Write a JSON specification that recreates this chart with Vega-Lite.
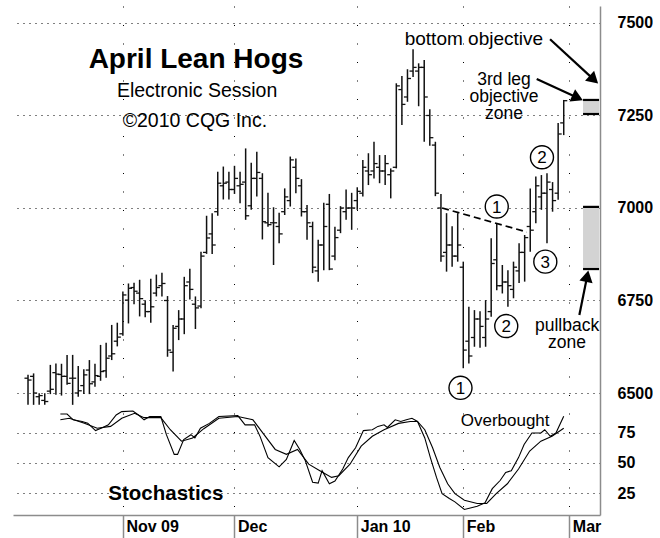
{
  "$schema": "https://vega.github.io/schema/vega-lite/v6.json",
  "width": 587,
  "height": 509,
  "padding": {"left": 13, "top": 6, "right": 0, "bottom": 0},
  "background": "white",
  "config": {
    "view": {"stroke": null},
    "axis": {"labelFont": "Liberation Sans", "labelFontSize": 16, "labelFontWeight": "bold", "labelColor": "#000"},
    "text": {"font": "Liberation Sans"}
  },
  "datasets": {
    "bars": [
      {"i":0,"h":6549,"l":6468,"o":6540,"c":6535},
      {"i":1,"h":6553,"l":6468,"o":6545,"c":6500},
      {"i":2,"h":6499,"l":6468,"o":6490,"c":6493},
      {"i":3,"h":6499,"l":6468,"o":6480,"c":6477},
      {"i":4,"h":6576,"l":6497,"o":6505,"c":6510},
      {"i":5,"h":6580,"l":6495,"o":6555,"c":6551},
      {"i":6,"h":6579,"l":6493,"o":6550,"c":6545},
      {"i":7,"h":6603,"l":6522,"o":6545,"c":6526},
      {"i":8,"h":6603,"l":6468,"o":6540,"c":6540},
      {"i":9,"h":6573,"l":6490,"o":6500,"c":6506},
      {"i":10,"h":6564,"l":6497,"o":6520,"c":6549},
      {"i":11,"h":6589,"l":6497,"o":6562,"c":6525},
      {"i":12,"h":6579,"l":6517,"o":6530,"c":6547},
      {"i":13,"h":6630,"l":6533,"o":6545,"c":6558},
      {"i":14,"h":6636,"l":6541,"o":6560,"c":6594},
      {"i":15,"h":6684,"l":6589,"o":6600,"c":6606},
      {"i":16,"h":6690,"l":6626,"o":6640,"c":6651},
      {"i":17,"h":6774,"l":6655,"o":6660,"c":6765},
      {"i":18,"h":6796,"l":6688,"o":6751,"c":6783},
      {"i":19,"h":6798,"l":6740,"o":6785,"c":6775},
      {"i":20,"h":6806,"l":6707,"o":6770,"c":6755},
      {"i":21,"h":6751,"l":6705,"o":6740,"c":6720},
      {"i":22,"h":6809,"l":6690,"o":6720,"c":6733},
      {"i":23,"h":6820,"l":6761,"o":6770,"c":6785},
      {"i":24,"h":6825,"l":6761,"o":6790,"c":6796},
      {"i":25,"h":6762,"l":6598,"o":6750,"c":6616},
      {"i":26,"h":6684,"l":6558,"o":6610,"c":6675},
      {"i":27,"h":6724,"l":6643,"o":6680,"c":6700},
      {"i":28,"h":6814,"l":6659,"o":6700,"c":6790},
      {"i":29,"h":6836,"l":6753,"o":6800,"c":6780},
      {"i":30,"h":6761,"l":6673,"o":6740,"c":6730},
      {"i":31,"h":6882,"l":6729,"o":6735,"c":6870},
      {"i":32,"h":6979,"l":6876,"o":6880,"c":6919},
      {"i":33,"h":6986,"l":6876,"o":6930,"c":6900},
      {"i":34,"h":7098,"l":6979,"o":6990,"c":7067},
      {"i":35,"h":7112,"l":7023,"o":7060,"c":7067},
      {"i":36,"h":7098,"l":7023,"o":7070,"c":7050},
      {"i":37,"h":7114,"l":7038,"o":7050,"c":7080},
      {"i":38,"h":7098,"l":7013,"o":7060,"c":7064},
      {"i":39,"h":7161,"l":6968,"o":7070,"c":6979},
      {"i":40,"h":7122,"l":6995,"o":7006,"c":7080},
      {"i":41,"h":7152,"l":7031,"o":7080,"c":7096},
      {"i":42,"h":7094,"l":6915,"o":7080,"c":6963},
      {"i":43,"h":7041,"l":6949,"o":6960,"c":6955},
      {"i":44,"h":7002,"l":6846,"o":6960,"c":6960},
      {"i":45,"h":6987,"l":6905,"o":6950,"c":6930},
      {"i":46,"h":7053,"l":6981,"o":6990,"c":7030},
      {"i":47,"h":7139,"l":7004,"o":7020,"c":7130},
      {"i":48,"h":7134,"l":7040,"o":7110,"c":7080},
      {"i":49,"h":7078,"l":6977,"o":7060,"c":6990},
      {"i":50,"h":7008,"l":6914,"o":6990,"c":6960},
      {"i":51,"h":6963,"l":6824,"o":6950,"c":6840},
      {"i":52,"h":6914,"l":6801,"o":6830,"c":6900},
      {"i":53,"h":7014,"l":6832,"o":6900,"c":6950},
      {"i":54,"h":7038,"l":6832,"o":7010,"c":6835},
      {"i":55,"h":6949,"l":6859,"o":6870,"c":6920},
      {"i":56,"h":7005,"l":6932,"o":6940,"c":7000},
      {"i":57,"h":7050,"l":6968,"o":6990,"c":7000},
      {"i":58,"h":7041,"l":6941,"o":7000,"c":7000},
      {"i":59,"h":7056,"l":6995,"o":7020,"c":7045},
      {"i":60,"h":7130,"l":7031,"o":7040,"c":7110},
      {"i":61,"h":7148,"l":7062,"o":7100,"c":7090},
      {"i":62,"h":7179,"l":7080,"o":7100,"c":7120},
      {"i":63,"h":7143,"l":7067,"o":7110,"c":7100},
      {"i":64,"h":7143,"l":7062,"o":7100,"c":7120},
      {"i":65,"h":7107,"l":7026,"o":7090,"c":7100},
      {"i":66,"h":7337,"l":7107,"o":7110,"c":7330},
      {"i":67,"h":7357,"l":7224,"o":7320,"c":7280},
      {"i":68,"h":7375,"l":7287,"o":7300,"c":7350},
      {"i":69,"h":7429,"l":7354,"o":7370,"c":7380},
      {"i":70,"h":7391,"l":7275,"o":7370,"c":7380},
      {"i":71,"h":7400,"l":7179,"o":7380,"c":7300},
      {"i":72,"h":7267,"l":7168,"o":7250,"c":7190},
      {"i":73,"h":7179,"l":7032,"o":7170,"c":7040},
      {"i":74,"h":7038,"l":6855,"o":7000,"c":6870},
      {"i":75,"h":6986,"l":6828,"o":6880,"c":6900},
      {"i":76,"h":6951,"l":6841,"o":6900,"c":6870},
      {"i":77,"h":6986,"l":6855,"o":6870,"c":6900},
      {"i":78,"h":6855,"l":6567,"o":6840,"c":6616},
      {"i":79,"h":6733,"l":6580,"o":6640,"c":6600},
      {"i":80,"h":6724,"l":6625,"o":6650,"c":6700},
      {"i":81,"h":6721,"l":6622,"o":6700,"c":6680},
      {"i":82,"h":6751,"l":6625,"o":6650,"c":6700},
      {"i":83,"h":6918,"l":6706,"o":6720,"c":6850},
      {"i":84,"h":6959,"l":6778,"o":6860,"c":6790},
      {"i":85,"h":6846,"l":6769,"o":6790,"c":6800},
      {"i":86,"h":6832,"l":6733,"o":6800,"c":6790},
      {"i":87,"h":6855,"l":6756,"o":6780,"c":6840},
      {"i":88,"h":6905,"l":6797,"o":6830,"c":6880},
      {"i":89,"h":6927,"l":6801,"o":6880,"c":6920},
      {"i":90,"h":7053,"l":6882,"o":6950,"c":6940},
      {"i":91,"h":7085,"l":6959,"o":6990,"c":7060},
      {"i":92,"h":7089,"l":6995,"o":7030,"c":7040},
      {"i":93,"h":7094,"l":6905,"o":7040,"c":7070},
      {"i":94,"h":7070,"l":6990,"o":7050,"c":7020},
      {"i":95,"h":7230,"l":7022,"o":7040,"c":7200},
      {"i":96,"h":7292,"l":7197,"o":7230,"c":7290}
    ],
    "stK": [
      {"i":5.8,"v":90.8},{"i":7.0,"v":90.8},{"i":8.1,"v":86},{"i":9.7,"v":84.6},{"i":10.7,"v":83.2},
      {"i":12.1,"v":77},{"i":13.4,"v":79.6},{"i":14.4,"v":81.8},{"i":15.8,"v":90},{"i":16.8,"v":92.8},
      {"i":18.8,"v":93.3},{"i":19.8,"v":90},{"i":20.8,"v":86},{"i":21.8,"v":88.7},{"i":23.8,"v":88.7},
      {"i":24.8,"v":73.6},{"i":26.2,"v":57.2},{"i":26.8,"v":57.2},{"i":27.9,"v":69.5},{"i":29.2,"v":73.6},
      {"i":29.9,"v":70.9},{"i":30.9,"v":79},{"i":32.5,"v":83},{"i":34.2,"v":88.7},{"i":37.6,"v":89.5},
      {"i":38.9,"v":81.8},{"i":40.6,"v":81.8},{"i":41.6,"v":72},{"i":43.0,"v":54.5},{"i":45.0,"v":46.8},
      {"i":46.3,"v":53},{"i":47.7,"v":68.7},{"i":48.7,"v":61.3},{"i":49.7,"v":51.8},{"i":51.0,"v":34},
      {"i":52.0,"v":33.2},{"i":52.7,"v":43.6},{"i":54.0,"v":32.7},{"i":55.0,"v":35},{"i":56.4,"v":45},
      {"i":57.4,"v":54.5},{"i":58.7,"v":62.7},{"i":60.1,"v":77},{"i":61.7,"v":77.7},{"i":62.7,"v":80.5},
      {"i":63.8,"v":81.8},{"i":64.4,"v":79.6},{"i":65.8,"v":86},{"i":66.8,"v":84.6},{"i":67.8,"v":86},
      {"i":68.8,"v":87.3},{"i":69.8,"v":84.6},{"i":71.1,"v":70.9},{"i":72.1,"v":54.5},{"i":73.2,"v":38},
      {"i":74.2,"v":24.5},{"i":75.5,"v":20.4},{"i":76.5,"v":17.6},{"i":78.2,"v":11.3},{"i":80.5,"v":14},
      {"i":81.9,"v":16.8},{"i":83.2,"v":28.6},{"i":84.6,"v":35.4},{"i":85.6,"v":42.2},{"i":86.6,"v":43.6},
      {"i":87.9,"v":54.5},{"i":88.9,"v":65.4},{"i":90.3,"v":75},{"i":91.9,"v":75},{"i":92.6,"v":77.7},
      {"i":93.6,"v":72.3},{"i":94.6,"v":75},{"i":96.0,"v":89}
    ],
    "stD": [
      {"i":5.8,"v":86},{"i":7.4,"v":87.3},{"i":10.1,"v":83.2},{"i":12.4,"v":79},{"i":14.8,"v":80.5},
      {"i":16.8,"v":87.3},{"i":19.1,"v":91.4},{"i":20.8,"v":87.8},{"i":23.8,"v":87.8},{"i":25.5,"v":77.7},
      {"i":27.5,"v":68.2},{"i":29.5,"v":70.9},{"i":31.5,"v":78.6},{"i":34.2,"v":87.3},{"i":37.6,"v":88.7},
      {"i":40.3,"v":86},{"i":42.3,"v":73.6},{"i":44.3,"v":61.3},{"i":46.3,"v":57.2},{"i":48.3,"v":61.3},
      {"i":50.3,"v":49},{"i":52.3,"v":43.6},{"i":54.4,"v":38},{"i":55.7,"v":39.4},{"i":57.7,"v":49},
      {"i":59.7,"v":64},{"i":61.7,"v":72.3},{"i":63.8,"v":77.7},{"i":66.4,"v":83},{"i":68.5,"v":84.6},
      {"i":69.8,"v":84.6},{"i":71.1,"v":77.7},{"i":72.5,"v":62.7},{"i":73.8,"v":46.3},{"i":75.2,"v":32.7},
      {"i":76.5,"v":24.5},{"i":78.2,"v":19},{"i":80.5,"v":16.3},{"i":82.2,"v":16.3},{"i":83.9,"v":24.5},
      {"i":85.9,"v":32.7},{"i":87.9,"v":45},{"i":89.9,"v":60},{"i":91.9,"v":68.2},{"i":93.9,"v":72.3},
      {"i":96.0,"v":79}
    ]
  },
  "layer": [
    {
      "layer": [
        {
          "data": {"name": "bars"},
          "mark": {"type": "rule", "color": "#111", "strokeWidth": 1.5},
          "encoding": {
            "x": {"field": "i", "type": "quantitative", "scale": {"domain": [-2.69, 102.5], "nice": false, "zero": false},
              "axis": {"title": null, "values": [17, 37, 59, 78, 97],
                "labelExpr": "datum.value == 17 ? 'Nov 09' : datum.value == 37 ? 'Dec' : datum.value == 59 ? 'Jan 10' : datum.value == 78 ? 'Feb' : 'Mar'",
                "grid": true, "gridColor": "#000", "gridDash": [1, 17.5], "gridWidth": 1,
                "domainColor": "#8c8c8c", "domainWidth": 1.5, "tickColor": "#8c8c8c", "tickSize": 23, "tickWidth": 1.5,
                "labelAlign": "left", "labelBaseline": "alphabetic", "labelPadding": -7, "labelOffset": 3,
                "labelFlush": false, "labelOverlap": false}},
            "y": {"field": "l", "type": "quantitative", "scale": {"domain": [6170.3, 7545.9], "nice": false, "zero": false},
              "axis": {"title": null, "orient": "right", "values": [6500, 6750, 7000, 7250, 7500], "format": "d",
                "grid": true, "gridColor": "#000", "gridDash": [1, 5], "gridWidth": 1,
                "domainColor": "#8c8c8c", "domainWidth": 1.5, "ticks": false, "tickSize": 0, "labelPadding": 17}},
            "y2": {"field": "h"}
          }
        },
        {
          "data": {"name": "bars"},
          "mark": {"type": "tick", "orient": "horizontal", "size": 3.5, "thickness": 1.3, "color": "#111", "xOffset": -1.8, "opacity": 1},
          "encoding": {"x": {"field": "i", "type": "quantitative"}, "y": {"field": "o", "type": "quantitative", "title": null}}
        },
        {
          "data": {"name": "bars"},
          "mark": {"type": "tick", "orient": "horizontal", "size": 3.5, "thickness": 1.3, "color": "#111", "xOffset": 1.8, "opacity": 1},
          "encoding": {"x": {"field": "i", "type": "quantitative"}, "y": {"field": "c", "type": "quantitative", "title": null}}
        },
        {
          "mark": {"type": "rule", "color": "#8c8c8c", "strokeWidth": 1.5},
          "encoding": {"x": {"datum": -2.69}, "x2": {"datum": 102.5}, "y": {"datum": 6467.6}}
        },
        {
          "mark": {"type": "rule", "color": "#000", "strokeWidth": 2},
          "encoding": {"x": {"datum": -2.69}, "y": {"datum": 7545.9}, "y2": {"datum": 6108}}
        },
        {
          "mark": {"type": "rule", "color": "#000", "strokeWidth": 2},
          "encoding": {"x": {"datum": -2.69}, "x2": {"datum": 112.19}, "y": {"datum": 7545.9}}
        },
        {
          "mark": {"type": "rule", "color": "#000", "strokeWidth": 2},
          "encoding": {"x": {"datum": 112.19}, "y": {"datum": 7545.9}, "y2": {"datum": 6108}}
        },
        {
          "data": {"values": [{"a": 99.46, "b": 102.33, "lo": 7254, "hi": 7292}, {"a": 99.46, "b": 102.33, "lo": 6835, "hi": 7003}]},
          "layer": [
            {"mark": {"type": "rect", "color": "#d3d3d3"},
             "encoding": {"x": {"field": "a", "type": "quantitative"}, "x2": {"field": "b"}, "y": {"field": "lo", "type": "quantitative", "title": null}, "y2": {"field": "hi"}}},
            {"mark": {"type": "rule", "color": "#000", "strokeWidth": 2.2},
             "encoding": {"x": {"field": "a", "type": "quantitative"}, "x2": {"field": "b"}, "y": {"field": "lo", "type": "quantitative", "title": null}}},
            {"mark": {"type": "rule", "color": "#000", "strokeWidth": 2.2},
             "encoding": {"x": {"field": "a", "type": "quantitative"}, "x2": {"field": "b"}, "y": {"field": "hi", "type": "quantitative", "title": null}}}
          ]
        },
        {
          "data": {"values": [{"a": 74.2, "p": 7000, "b": 89.4, "q": 6935}]},
          "mark": {"type": "rule", "color": "#000", "strokeWidth": 1.8, "strokeDash": [7, 4]},
          "encoding": {"x": {"field": "a", "type": "quantitative"}, "x2": {"field": "b"}, "y": {"field": "p", "type": "quantitative", "title": null}, "y2": {"field": "q"}}
        },
        {
          "data": {"values": [
            {"a": 93.55, "p": 7455.9, "b": 101.4, "q": 7346.8},
            {"a": 91.16, "p": 7348.6, "b": 98.48, "q": 7297.8},
            {"a": 98.8, "p": 6710.8, "b": 100.2, "q": 6815.7}
          ]},
          "mark": {"type": "rule", "color": "#000", "strokeWidth": 2.2},
          "encoding": {"x": {"field": "a", "type": "quantitative"}, "x2": {"field": "b"}, "y": {"field": "p", "type": "quantitative", "title": null}, "y2": {"field": "q"}}
        },
        {
          "data": {"values": [{"x": 101.4, "y": 7346.8}]},
          "mark": {"type": "point", "shape": "triangle-right", "filled": true, "color": "#000", "opacity": 1, "size": 180, "angle": 42.7},
          "encoding": {"x": {"field": "x", "type": "quantitative"}, "y": {"field": "y", "type": "quantitative", "title": null}}
        },
        {
          "data": {"values": [{"x": 98.48, "y": 7297.8}]},
          "mark": {"type": "point", "shape": "triangle-right", "filled": true, "color": "#000", "opacity": 1, "size": 180, "angle": 24.7},
          "encoding": {"x": {"field": "x", "type": "quantitative"}, "y": {"field": "y", "type": "quantitative", "title": null}}
        },
        {
          "data": {"values": [{"x": 100.2, "y": 6815.7}]},
          "mark": {"type": "point", "shape": "triangle-right", "filled": true, "color": "#000", "opacity": 1, "size": 180, "angle": -78.4},
          "encoding": {"x": {"field": "x", "type": "quantitative"}, "y": {"field": "y", "type": "quantitative", "title": null}}
        },
        {
          "data": {"values": [
            {"x": 77.5, "y": 6514, "t": "1"},
            {"x": 85.7, "y": 6681, "t": "2"},
            {"x": 92.7, "y": 6855, "t": "3"},
            {"x": 84.0, "y": 7004, "t": "1"},
            {"x": 92.1, "y": 7137, "t": "2"}
          ]},
          "layer": [
            {"mark": {"type": "point", "shape": "circle", "size": 530, "fill": "#fff", "stroke": "#000", "strokeWidth": 1.4, "opacity": 1},
             "encoding": {"x": {"field": "x", "type": "quantitative"}, "y": {"field": "y", "type": "quantitative", "title": null}}},
            {"mark": {"type": "text", "fontSize": 17, "align": "center", "baseline": "middle", "dy": 1, "color": "#000"},
             "encoding": {"x": {"field": "x", "type": "quantitative"}, "y": {"field": "y", "type": "quantitative", "title": null}, "text": {"field": "t"}}}
          ]
        },
        {
          "data": {"values": [{"x": 30.1, "y": 7378, "t": "April Lean Hogs"}]},
          "mark": {"type": "text", "fontSize": 28, "fontWeight": "bold", "align": "center", "baseline": "alphabetic", "color": "#000"},
          "encoding": {"x": {"field": "x", "type": "quantitative"}, "y": {"field": "y", "type": "quantitative", "title": null}, "text": {"field": "t"}}
        },
        {
          "data": {"values": [
            {"x": 30.3, "y": 7300, "t": "Electronic Session"},
            {"x": 29.9, "y": 7219, "t": "©2010 CQG Inc."}
          ]},
          "mark": {"type": "text", "fontSize": 19.5, "align": "center", "baseline": "alphabetic", "color": "#000"},
          "encoding": {"x": {"field": "x", "type": "quantitative"}, "y": {"field": "y", "type": "quantitative", "title": null}, "text": {"field": "t"}}
        },
        {
          "data": {"values": [{"x": 79.9, "y": 7440, "t": "bottom objective"}]},
          "mark": {"type": "text", "fontSize": 19, "align": "center", "baseline": "alphabetic", "color": "#000"},
          "encoding": {"x": {"field": "x", "type": "quantitative"}, "y": {"field": "y", "type": "quantitative", "title": null}, "text": {"field": "t"}}
        },
        {
          "data": {"values": [
            {"x": 85.3, "y": 7333, "t": "3rd leg\nobjective\nzone"},
            {"x": 96.6, "y": 6668, "t": "pullback\nzone"}
          ]},
          "mark": {"type": "text", "fontSize": 17.5, "align": "center", "baseline": "alphabetic", "lineBreak": "\n", "lineHeight": 17, "color": "#000"},
          "encoding": {"x": {"field": "x", "type": "quantitative"}, "y": {"field": "y", "type": "quantitative", "title": null}, "text": {"field": "t"}}
        }
      ]
    },
    {
      "layer": [
        {
          "data": {"name": "stD"},
          "mark": {"type": "line", "color": "#000", "strokeWidth": 1.1},
          "encoding": {
            "x": {"field": "i", "type": "quantitative"},
            "y": {"field": "v", "type": "quantitative", "scale": {"domain": [6.67, 430.8], "nice": false, "zero": false},
              "axis": {"title": null, "orient": "right", "values": [25, 50, 75], "format": "d", "grid": true, "gridColor": "#000", "gridDash": [1, 5], "gridWidth": 1,
                "domain": false, "ticks": false, "tickSize": 0, "labelPadding": 17}}
          }
        },
        {
          "data": {"name": "stK"},
          "mark": {"type": "line", "color": "#000", "strokeWidth": 1.1},
          "encoding": {"x": {"field": "i", "type": "quantitative"}, "y": {"field": "v", "type": "quantitative", "title": null}}
        },
        {
          "data": {"values": [{"x": 85.5, "y": 80.8, "t": "Overbought"}]},
          "mark": {"type": "text", "fontSize": 17, "align": "center", "baseline": "alphabetic", "color": "#000"},
          "encoding": {"x": {"field": "x", "type": "quantitative"}, "y": {"field": "y", "type": "quantitative", "title": null}, "text": {"field": "t"}}
        },
        {
          "data": {"values": [{"x": 24.7, "y": 19.2, "t": "Stochastics"}]},
          "mark": {"type": "text", "fontSize": 20.5, "fontWeight": "bold", "align": "center", "baseline": "alphabetic", "color": "#000"},
          "encoding": {"x": {"field": "x", "type": "quantitative"}, "y": {"field": "y", "type": "quantitative", "title": null}, "text": {"field": "t"}}
        }
      ]
    }
  ],
  "resolve": {"scale": {"y": "independent"}, "axis": {"y": "independent"}}
}
